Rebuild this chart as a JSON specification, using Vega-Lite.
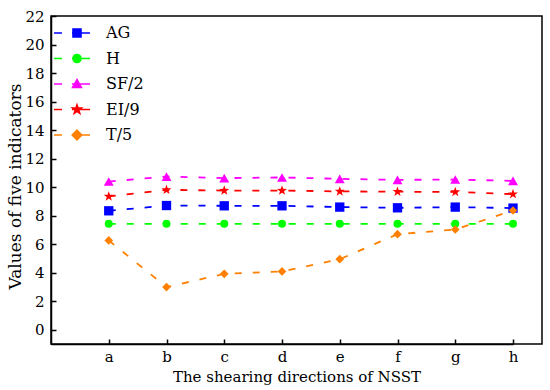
{
  "$schema": "https://vega.github.io/schema/vega-lite/v6.json",
  "width": 491,
  "height": 328,
  "autosize": "none",
  "padding": {"left": 51, "top": 16, "right": 8, "bottom": 46},
  "background": "white",
  "config": {
    "font": "DejaVu Serif",
    "view": {"stroke": "black", "strokeWidth": 1.5},
    "axis": {
      "domainColor": "black", "domainWidth": 1.5,
      "tickColor": "black", "tickWidth": 1.5, "tickSize": -5,
      "labelColor": "black", "titleColor": "black",
      "labelFontSize": 15, "titleFontSize": 15, "titleFontWeight": "normal",
      "labelFont": "DejaVu Serif", "titleFont": "DejaVu Serif",
      "grid": false
    },
    "legend": {"labelFont": "DejaVu Serif"}
  },
  "data": {
    "values": [
      {"dir": "a", "series": "AG", "value": 8.34},
      {"dir": "b", "series": "AG", "value": 8.71},
      {"dir": "c", "series": "AG", "value": 8.69},
      {"dir": "d", "series": "AG", "value": 8.69},
      {"dir": "e", "series": "AG", "value": 8.6},
      {"dir": "f", "series": "AG", "value": 8.55},
      {"dir": "g", "series": "AG", "value": 8.6},
      {"dir": "h", "series": "AG", "value": 8.53},
      {"dir": "a", "series": "H", "value": 7.43},
      {"dir": "b", "series": "H", "value": 7.43},
      {"dir": "c", "series": "H", "value": 7.43},
      {"dir": "d", "series": "H", "value": 7.43},
      {"dir": "e", "series": "H", "value": 7.43},
      {"dir": "f", "series": "H", "value": 7.43},
      {"dir": "g", "series": "H", "value": 7.43},
      {"dir": "h", "series": "H", "value": 7.43},
      {"dir": "a", "series": "SF/2", "value": 10.39},
      {"dir": "b", "series": "SF/2", "value": 10.74},
      {"dir": "c", "series": "SF/2", "value": 10.63},
      {"dir": "d", "series": "SF/2", "value": 10.68},
      {"dir": "e", "series": "SF/2", "value": 10.58},
      {"dir": "f", "series": "SF/2", "value": 10.51},
      {"dir": "g", "series": "SF/2", "value": 10.53},
      {"dir": "h", "series": "SF/2", "value": 10.44},
      {"dir": "a", "series": "EI/9", "value": 9.35},
      {"dir": "b", "series": "EI/9", "value": 9.81},
      {"dir": "c", "series": "EI/9", "value": 9.76},
      {"dir": "d", "series": "EI/9", "value": 9.76},
      {"dir": "e", "series": "EI/9", "value": 9.7},
      {"dir": "f", "series": "EI/9", "value": 9.68},
      {"dir": "g", "series": "EI/9", "value": 9.66},
      {"dir": "h", "series": "EI/9", "value": 9.51},
      {"dir": "a", "series": "T/5", "value": 6.26},
      {"dir": "b", "series": "T/5", "value": 2.99},
      {"dir": "c", "series": "T/5", "value": 3.92},
      {"dir": "d", "series": "T/5", "value": 4.09},
      {"dir": "e", "series": "T/5", "value": 4.95},
      {"dir": "f", "series": "T/5", "value": 6.7},
      {"dir": "g", "series": "T/5", "value": 7.03},
      {"dir": "h", "series": "T/5", "value": 8.36}
    ]
  },
  "encoding": {
    "x": {
      "field": "dir", "type": "ordinal",
      "scale": {"type": "point", "domain": ["", "a", "b", "c", "d", "e", "f", "g", "h"], "range": [0, 462], "padding": 0},
      "axis": {"values": ["a", "b", "c", "d", "e", "f", "g", "h"], "labelAngle": 0, "labelPadding": 10, "title": "The shearing directions of NSST", "titlePadding": 5, "titleX": 245.5, "titleAnchor": "middle"}
    },
    "y": {
      "field": "value", "type": "quantitative",
      "scale": {"domain": [-1, 22], "nice": false, "zero": false},
      "axis": {"values": [0, 2, 4, 6, 8, 10, 12, 14, 16, 18, 20, 22], "labelPadding": 12, "title": "Values of five indicators", "titleFontSize": 17, "titlePadding": 0, "titleY": 170}
    },
    "color": {
      "field": "series", "type": "nominal",
      "scale": {"domain": ["AG", "H", "SF/2", "EI/9", "T/5"], "range": ["#0000FF", "#00FF00", "#FF00FF", "#FF0000", "#FF8000"]},
      "legend": {
        "title": null, "orient": "none", "legendX": 18, "legendY": 9, "padding": 0,
        "symbolSize": 64, "labelFontSize": 16, "labelOffset": 21, "rowPadding": 9.5, "labelColor": "black",
        "encode": {
          "symbols": {
            "update": {
              "shape": {"signal": "'M-5.75,0L-3.75,0M-1.25,0L3.25,0' + (datum.value === 'AG' ? 'M-1,-1L1,-1L1,1L-1,1Z' : datum.value === 'H' ? 'M1,0A1,1,0,1,1,-1,0A1,1,0,1,1,1,0Z' : datum.value === 'SF/2' ? 'M0,-1.1L1.1,0.85L-1.1,0.85Z' : datum.value === 'EI/9' ? 'M0,-1.15L0.27,-0.37L1.09,-0.36L0.44,0.15L0.68,0.93L0,0.46L-0.68,0.93L-0.44,0.15L-1.09,-0.36L-0.27,-0.37Z' : 'M0,-1.2L1.2,0L0,1.2L-1.2,0Z')"},
              "fill": {"scale": "color", "field": "value"},
              "stroke": {"scale": "color", "field": "value"},
              "strokeWidth": {"value": 1.6},
              "strokeDash": {"value": []},
              "opacity": {"value": 1}
            }
          }
        }
      }
    }
  },
  "layer": [
    {
      "mark": {"type": "line", "strokeWidth": 1.8, "strokeDash": [7, 11]},
      "encoding": {}
    },
    {
      "mark": {"type": "point", "filled": true, "opacity": 1},
      "encoding": {
        "shape": {
          "field": "series", "type": "nominal",
          "scale": {"domain": ["T/5", "EI/9", "SF/2", "H", "AG"], "range": ["diamond", "M0,-1L0.235,-0.324L0.951,-0.309L0.38,0.124L0.588,0.809L0,0.4L-0.588,0.809L-0.38,0.124L-0.951,-0.309L-0.235,-0.324Z", "triangle-up", "circle", "square"]},
          "legend": null
        },
        "size": {
          "field": "series", "type": "ordinal",
          "scale": {"domain": ["H", "T/5", "AG", "SF/2", "EI/9"], "range": [64, 110, 60, 80, 120]},
          "legend": null
        }
      }
    }
  ]
}
